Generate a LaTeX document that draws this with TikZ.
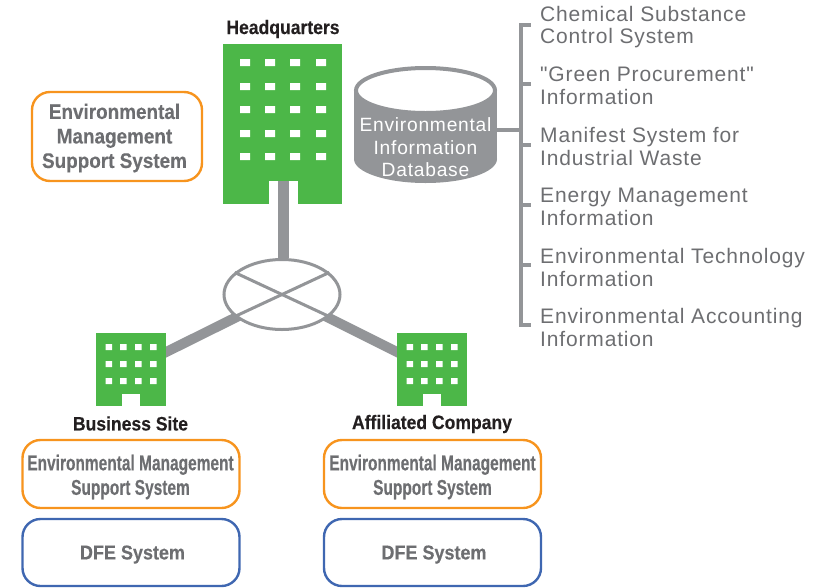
\documentclass[tikz,border=0pt]{standalone}
\usepackage{fontspec}
\usepackage{xcolor}
\usetikzlibrary{shapes.geometric, backgrounds}
\setmainfont{Liberation Sans}
\newfontfamily\narrowbold[FakeStretch=0.90, FakeBold=0.3]{Liberation Sans Bold}
\newfontfamily\tallbold[FakeStretch=0.72, FakeBold=0.3]{Liberation Sans Bold}
\newfontfamily\spaced[LetterSpace=4]{Liberation Sans}
\definecolor{bldgreen}{HTML}{4CB748}
\definecolor{railgray}{HTML}{939598}
\definecolor{textgray}{HTML}{6D6E71}
\definecolor{inkblack}{HTML}{231F20}
\definecolor{sysorange}{HTML}{F7941E}
\definecolor{sysblue}{HTML}{3F67B1}

\tikzset{
  bldg/.style={fill=bldgreen, inner sep=0, outer sep=0},
  door/.style={fill=white, inner sep=0, outer sep=0},
  window/.style={fill=white},
  sitelabel/.style={font=\narrowbold\fontsize{19.5}{22}\selectfont, text=inkblack},
  sysbox/.style={draw, line width=2.4pt, rounded corners=18pt, fill=white, inner sep=0},
  systext/.style={align=center, inner sep=0, text=textgray, font=\tallbold\fontsize{21.5}{24.5}\selectfont},
  syswide/.style={align=center, inner sep=0, text=textgray, font=\narrowbold\fontsize{21}{24.5}\selectfont},
  infoitem/.style={anchor=west, inner sep=0, align=left, text=textgray, font=\spaced\fontsize{21}{22.5}\selectfont},
  dbend/.style={ellipse, minimum width=143pt, minimum height=48pt, inner sep=0, outer sep=0},
  link/.style={draw=railgray, line width=10pt},
  rail/.style={draw=railgray, line width=3.5pt, line cap=rect},
}

\begin{document}
\begin{tikzpicture}[x=1pt, y=-1pt]
  \useasboundingbox (0, 0) rectangle (814, 587);

  % Buildings
  \node[bldg, minimum width=119pt, minimum height=160pt] (hq) at (282.5, 124) {};
  \node[door, minimum width=29pt, minimum height=23pt] (hqdoor) at (283.5, 192.5) {};
  \node[bldg, minimum width=70pt, minimum height=73pt] (bsite) at (131, 369.5) {};
  \node[door, minimum width=18pt, minimum height=12pt] (bsitedoor) at (131, 400) {};
  \node[bldg, minimum width=70pt, minimum height=73pt] (acomp) at (432, 369.5) {};
  \node[door, minimum width=18pt, minimum height=12pt] (acompdoor) at (432, 400) {};

  % Headquarters windows
  \fill[window] (240, 59) rectangle (250, 66) (265, 59) rectangle (275, 66) (290, 59) rectangle (300, 66) (316, 59) rectangle (326, 66);
  \fill[window] (240, 83) rectangle (250, 90) (265, 83) rectangle (275, 90) (290, 83) rectangle (300, 90) (316, 83) rectangle (326, 90);
  \fill[window] (240, 106) rectangle (250, 113) (265, 106) rectangle (275, 113) (290, 106) rectangle (300, 113) (316, 106) rectangle (326, 113);
  \fill[window] (240, 130) rectangle (250, 137) (265, 130) rectangle (275, 137) (290, 130) rectangle (300, 137) (316, 130) rectangle (326, 137);
  \fill[window] (240, 153) rectangle (250, 160) (265, 153) rectangle (275, 160) (290, 153) rectangle (300, 160) (316, 153) rectangle (326, 160);
  % Business site windows
  \fill[window] (105.5, 344) rectangle (112, 350) (120, 344) rectangle (126.5, 350) (135, 344) rectangle (141.5, 350) (150, 344) rectangle (156.5, 350);
  \fill[window] (105.5, 361) rectangle (112, 367) (120, 361) rectangle (126.5, 367) (135, 361) rectangle (141.5, 367) (150, 361) rectangle (156.5, 367);
  \fill[window] (105.5, 378) rectangle (112, 384) (120, 378) rectangle (126.5, 384) (135, 378) rectangle (141.5, 384) (150, 378) rectangle (156.5, 384);
  % Affiliated company windows
  \fill[window] (406.5, 344) rectangle (413, 350) (421, 344) rectangle (427.5, 350) (436, 344) rectangle (442.5, 350) (451, 344) rectangle (457.5, 350);
  \fill[window] (406.5, 361) rectangle (413, 367) (421, 361) rectangle (427.5, 367) (436, 361) rectangle (442.5, 367) (451, 361) rectangle (457.5, 367);
  \fill[window] (406.5, 378) rectangle (413, 384) (421, 378) rectangle (427.5, 384) (436, 378) rectangle (442.5, 384) (451, 378) rectangle (457.5, 384);

  % Network hub
  \node[ellipse, draw=railgray, line width=3pt, fill=white, minimum width=116pt, minimum height=70pt, inner sep=0] (hub) at (282, 294.5) {};
  \draw[railgray, line width=3pt] (hub.155) -- (hub.335);
  \draw[railgray, line width=3pt] (hub.25) -- (hub.205);
  \draw[railgray, line width=11pt] (hqdoor.north) -- (hqdoor.north |- hub.north);
  \begin{scope}[on background layer]
    \draw[link] (hub.center) -- (bsite.center);
    \draw[link] (hub.center) -- (acomp.center);
  \end{scope}

  % Site labels
  \node[sitelabel] (hqlabel) at (283, 29) {Headquarters};
  \node[sitelabel] (bsitelabel) at (130.5, 423.5) {Business Site};
  \node[sitelabel] (acomplabel) at (432, 424) {Affiliated Company};

  % Systems
  \node[sysbox, draw=sysorange, minimum width=170pt, minimum height=89pt] (hqems) at (117, 136.5) {};
  \node[sysbox, draw=sysorange, minimum width=217pt, minimum height=68pt] (bsiteems) at (131, 474) {};
  \node[sysbox, draw=sysblue, minimum width=217pt, minimum height=67pt] (bsitedfe) at (131, 552.5) {};
  \node[sysbox, draw=sysorange, minimum width=217pt, minimum height=68pt] (acompems) at (432.5, 474) {};
  \node[sysbox, draw=sysblue, minimum width=217pt, minimum height=67pt] (acompdfe) at (432.5, 552.5) {};
  \node[syswide] (hqemstext) at (114.5, 138) {Environmental\\Management\\Support System};
  \node[systext] (bsiteemstext) at (130.5, 477) {Environmental Management\\Support System};
  \node[syswide, font=\narrowbold\fontsize{20}{24.5}\selectfont] (bsitedfetext) at (132.5, 554.5) {DFE System};
  \node[systext] (acompemstext) at (432.5, 477) {Environmental Management\\Support System};
  \node[syswide, font=\narrowbold\fontsize{20}{24.5}\selectfont] (acompdfetext) at (434, 554.5) {DFE System};

  % Database
  \node[dbend, fill=railgray] (dbbase) at (425.5, 159) {};
  \fill[railgray] (354, 91) rectangle (dbbase.east);
  \node[dbend, fill=white, draw=railgray, line width=4pt, minimum width=139pt, minimum height=45pt] (dbtop) at (425.5, 90.5) {};
  \node[align=center, inner sep=0, text=white, font=\spaced\fontsize{19.2}{22.5}\selectfont] (dblabel) at (425.5, 147.5) {Environmental\\Information\\Database};
  \coordinate (dbport) at (497, 130);

  % Information list
  \coordinate (spine) at (521, 175);
  \node[infoitem] (chem) at (540, 27) {Chemical Substance\\Control System};
  \node[infoitem] (green) at (540, 86) {"Green Procurement"\\Information};
  \node[infoitem] (manifest) at (540, 146.5) {Manifest System for\\Industrial Waste};
  \node[infoitem] (energy) at (540, 207) {Energy Management\\Information};
  \node[infoitem] (tech) at (540, 267.5) {Environmental Technology\\Information};
  \node[infoitem] (acct) at (540, 327.5) {Environmental Accounting\\Information};

  % Bracket
  \draw[rail] ([yshift=2pt]chem.west -| spine) -- ([yshift=2.5pt]acct.west -| spine);
  \draw[rail] ([yshift=2pt]chem.west -| spine) -- ++(8, 0);
  \draw[rail] ([yshift=2pt]green.west -| spine) -- ++(8, 0);
  \draw[rail] ([yshift=1.5pt]manifest.west -| spine) -- ++(8, 0);
  \draw[rail] ([yshift=2pt]energy.west -| spine) -- ++(8, 0);
  \draw[rail] ([yshift=2.5pt]tech.west -| spine) -- ++(8, 0);
  \draw[rail] ([yshift=2.5pt]acct.west -| spine) -- ++(8, 0);
  \draw[rail] (dbport) -- (dbport -| spine);
\end{tikzpicture}
\end{document}
